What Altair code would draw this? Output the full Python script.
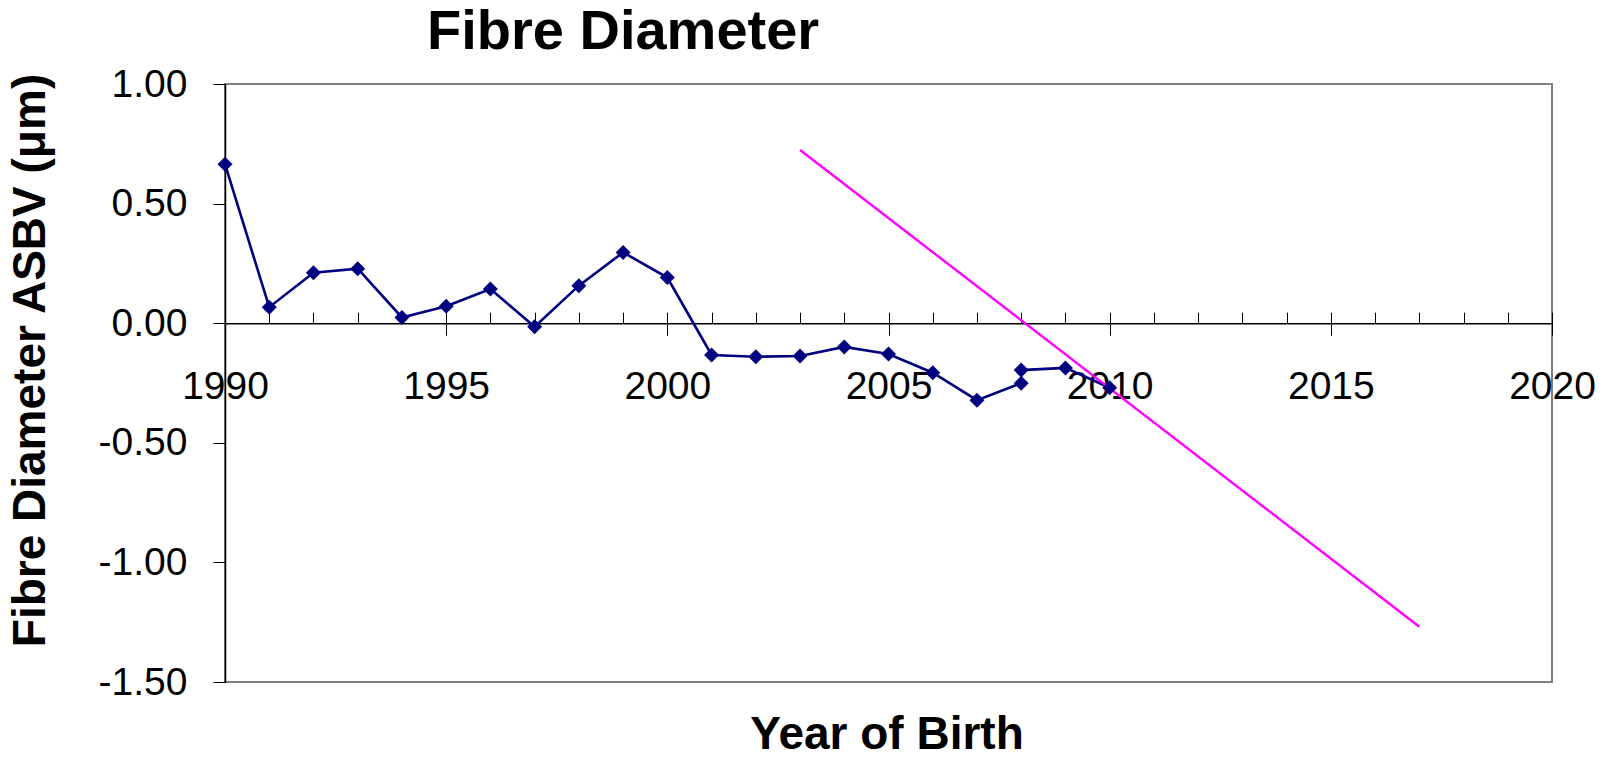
import altair as alt
import pandas as pd

# ---- data ----
years = [1990, 1991, 1992, 1993, 1994, 1995, 1996, 1997, 1998, 1999, 2000,
         2001, 2002, 2003, 2004, 2005, 2006, 2007, 2008, 2008, 2009, 2010]
asbv = [0.665, 0.067, 0.211, 0.228, 0.024, 0.071, 0.143, -0.015, 0.157, 0.296, 0.191,
        -0.133, -0.140, -0.137, -0.099, -0.129, -0.207, -0.322, -0.251, -0.196, -0.187, -0.270]
trend_years = [2003, 2017]
trend_values = [0.724, -1.269]

major_years = [1990, 1995, 2000, 2005, 2010, 2015, 2020]
all_years = list(range(1990, 2021))
y_ticks = [-1.5, -1.0, -0.5, 0.0, 0.5, 1.0]

FONT = "Liberation Sans"
W, H = 1327, 598
Y_MIN, Y_MAX = -1.5, 1.0
zero_from_top = H * Y_MAX / (Y_MAX - Y_MIN)
zero_from_bottom = H - zero_from_top

df = pd.DataFrame({"year": years, "asbv": asbv, "order": list(range(len(years)))})
tdf = pd.DataFrame({"year": trend_years, "value": trend_values})

xs = alt.Scale(domain=[1990, 2020], nice=False, zero=False)
ys = alt.Scale(domain=[Y_MIN, Y_MAX], nice=False, zero=False)

x_main = alt.X(
    "year:Q", scale=xs,
    axis=alt.Axis(
        orient="bottom", offset=-zero_from_bottom, values=major_years, format="d",
        tickSize=12, tickColor="black", tickWidth=1,
        domainColor="black", domainWidth=1.5,
        labelFont=FONT, labelFontSize=39, labelColor="black", labelPadding=32,
        labelOverlap=False, labelFlush=False,
        grid=False,
        title="Year of Birth", titleFont=FONT, titleFontSize=46, titleFontWeight="bold",
        titleColor="black", titleX=W / 2 - 2, titleY=425, titleAlign="center",
        titleBaseline="alphabetic",
    ),
)
y_main = alt.Y(
    "asbv:Q", scale=ys,
    axis=alt.Axis(
        orient="left", values=y_ticks, format=".2f",
        tickSize=12, tickColor="black", tickWidth=1,
        domainColor="black", domainWidth=1.5,
        labelFont=FONT, labelFontSize=39, labelColor="black", labelPadding=26,
        labelOverlap=False, grid=False,
        title="Fibre Diameter ASBV (\u03bcm)", titleFont=FONT, titleFontSize=46,
        titleFontWeight="bold", titleColor="black", titlePadding=44, titleY=276,
    ),
)

line = alt.Chart(df).mark_line(color="#000080", strokeWidth=2.6).encode(
    x=x_main, y=y_main, order="order:Q"
)

points = alt.Chart(df).mark_point(
    shape="diamond", filled=True, color="#000080", size=225, opacity=1
).encode(
    x=alt.X(
        "year:Q", scale=xs,
        axis=alt.Axis(
            orient="top", offset=-zero_from_top, values=all_years, tickSize=11,
            tickColor="black", tickWidth=1, labels=False, domain=False,
            grid=False, title=None,
        ),
    ),
    y=alt.Y("asbv:Q", scale=ys),
)

trend = alt.Chart(tdf).mark_line(color="#FF00FF", strokeWidth=2.4).encode(
    x=alt.X("year:Q", scale=xs, axis=None),
    y=alt.Y("value:Q", scale=ys),
)

chart = (
    alt.layer(line, trend, points)
    .resolve_axis(x="independent")
    .properties(
        width=W, height=H,
        autosize=alt.AutoSizeParams(type="none"),
        padding={"left": 217, "top": 76, "right": 44, "bottom": 67},
        title=alt.TitleParams(
            "Fibre Diameter", font=FONT, fontSize=56, fontWeight="bold", color="black",
            anchor="start", frame="group", dx=202,
        ),
        background="white",
    )
    .configure_view(stroke="#808080", strokeWidth=2)
)

chart.save(
    "out.html",
    embed_options={
        "renderer": "svg",
        "actions": False,
        "formatLocale": {
            "decimal": ".", "thousands": ",", "grouping": [3],
            "currency": ["$", ""], "minus": "-",
        },
    },
)
